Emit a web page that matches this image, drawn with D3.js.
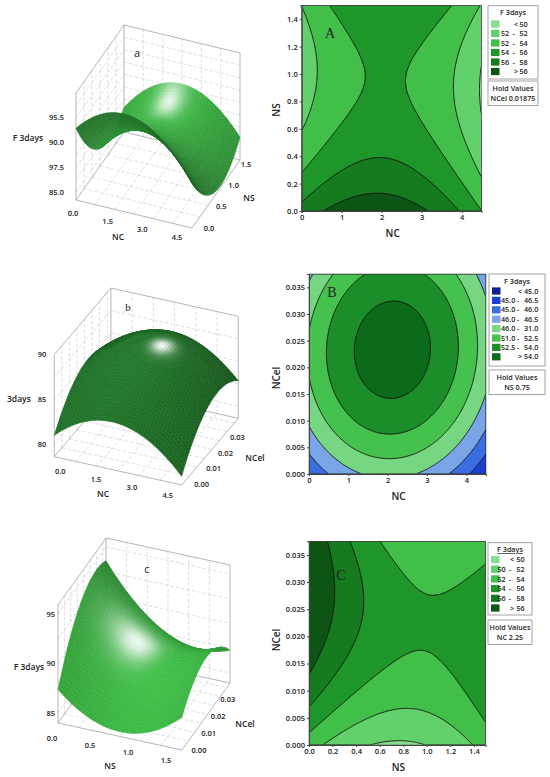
<!DOCTYPE html>
<html lang="en">
<head>
<meta charset="utf-8">
<title>F 3days response surfaces</title>
<style>
  body { margin: 0; background: #fff; }
  svg text { font-family: "Open Sans", sans-serif; fill: #222; }
  .tk { font-size: 7.5px; font-weight: 600; }
  .ttl { font-size: 10px; font-weight: 600; }
  .lg { font-size: 7.2px; font-weight: 600; }
</style>
</head>
<body>
<svg id="fig" width="550" height="777"></svg>
<script src="https://cdn.jsdelivr.net/npm/d3@7"></script>
<script>
"use strict";

// second-order models
// F = b0 + b1*x + b2*y + b11*x^2 + b22*y^2 + b12*x*y
var coefA = [56.71, 2.775, -11.22, -0.75, 5.40, 0.375];    // x = NC, y = NS
var coefB = [46.58, 3.245, 406.0, -0.8, -9000, 6.3];       // x = NC, y = NCel
var coefC = [52.93, -8.605, 498, 5.703, -8300, -124.5];    // x = NS, y = NCel

var domNC = [0, 4.5], domNS = [0, 1.5], domNCel = [0, 0.0375];

var levelsA = [50, 52, 54, 56, 58];
var levelsB = [45, 46.5, 48, 49.5, 51, 52.5, 54];
var levelsC = [50, 52, 54, 56, 58];

var greens = ["#86de90", "#62d06b", "#41bf49", "#1f962a", "#167a1f", "#0c5514"];
var bluesGreens = ["#0c1f8e", "#1c3fd2", "#3a6ee0", "#79a5e6", "#77d681", "#45c14d", "#1b8d29", "#0c6a1b"];

var legendA = [["<", "50"], ["52", "52"], ["52", "54"], ["54", "56"], ["56", "58"], [">", "56"]];
var legendB = [["<", "45.0"], ["45.0", "46.5"], ["45.0", "46.0"], ["46.0", "46.5"], ["46.0", "31.0"], ["51.0", "52.5"], ["52.5", "54.0"], [">", "54.0"]];
var legendC = [["<", "50"], ["50", "52"], ["52", "54"], ["54", "56"], ["56", "58"], [">", "56"]];
var holdA = ["Hold Values", "NCel  0.01875"];
var holdB = ["Hold Values", "NS 0.75"];
var holdC = ["Hold Values", "NC 2.25"];

var ticksNC = [0, 1, 2, 3, 4];
var ticksNS = [0, 0.2, 0.4, 0.6, 0.8, 1.0, 1.2, 1.4];
var ticksNCel = [0, 0.005, 0.01, 0.015, 0.02, 0.025, 0.03, 0.035];

var ticks3dNC = [0, 1.5, 3.0, 4.5];
var ticks3dNS = [0, 0.5, 1.0, 1.5];
var ticks3dNCel = [0, 0.01, 0.02, 0.03];
var zLabelsA = ["85.0", "97.5", "90.0", "95.5"];
var zLabelsB = ["80", "85", "90"];
var zLabelsC = ["85", "90", "95"];

var svg = d3.select("#fig");

function model(c) {
	return function(x, y) { return c[0] + c[1]*x + c[2]*y + c[3]*x*x + c[4]*y*y + c[5]*x*y; };
}
function grad(c, x, y) {
	return [c[1] + 2*c[3]*x + c[5]*y, c[2] + 2*c[4]*y + c[5]*x];
}
function norm(a) {
	var l = Math.sqrt(d3.sum(a, function(d){ return d*d; }));
	return a.map(function(d){ return d / l; });
}
function dot(a, b) { return a[0]*b[0] + a[1]*b[1] + a[2]*b[2]; }

// ---------- contour plots ----------
function contourPlot(cfg) {
	var g = svg.append("g");
	var x = d3.scaleLinear().domain(cfg.xDom).range([cfg.left, cfg.right]);
	var y = d3.scaleLinear().domain(cfg.yDom).range([cfg.bottom, cfg.top]);
	var f = model(cfg.coef);
	var nx = 180, ny = 180;
	var xr = cfg.xDom[1] - cfg.xDom[0], yr = cfg.yDom[1] - cfg.yDom[0];
	var values = new Array(nx * ny);
	for (var j = 0; j < ny; j++) {
		for (var i = 0; i < nx; i++) {
			values[j*nx + i] = f(cfg.xDom[0] + (i + 0.5)/nx*xr, cfg.yDom[0] + (j + 0.5)/ny*yr);
		}
	}
	var bands = d3.contours().size([nx, ny]).thresholds(cfg.levels)(values);
	var path = d3.geoPath(d3.geoTransform({
		point: function(px, py) {
			this.stream.point(x(cfg.xDom[0] + px/nx*xr), y(cfg.yDom[0] + py/ny*yr));
		}
	}));
	var id = "clip" + cfg.letter;
	g.append("clipPath").attr("id", id).append("rect")
		.attr("x", cfg.left).attr("y", cfg.top)
		.attr("width", cfg.right - cfg.left).attr("height", cfg.bottom - cfg.top);
	var area = g.append("g").attr("clip-path", "url(#" + id + ")");
	area.append("rect")
		.attr("x", cfg.left).attr("y", cfg.top)
		.attr("width", cfg.right - cfg.left).attr("height", cfg.bottom - cfg.top)
		.attr("fill", cfg.colours[0]);
	area.selectAll("path")
		.data(bands)
		.enter()
		.append("path")
		.attr("d", path)
		.attr("fill", function(d, k){ return cfg.colours[k + 1]; })
		.attr("stroke", "#111")
		.attr("stroke-width", 0.9);

	g.append("rect")
		.attr("x", cfg.left).attr("y", cfg.top)
		.attr("width", cfg.right - cfg.left).attr("height", cfg.bottom - cfg.top)
		.attr("fill", "none").attr("stroke", "#555").attr("stroke-width", 0.6);

	var ax = g.append("g").attr("transform", "translate(0," + cfg.bottom + ")")
		.call(d3.axisBottom(x).tickValues(cfg.xTicks).tickFormat(cfg.xFmt).tickSize(2).tickPadding(2));
	var ay = g.append("g").attr("transform", "translate(" + cfg.left + ",0)")
		.call(d3.axisLeft(y).tickValues(cfg.yTicks).tickFormat(cfg.yFmt).tickSize(2).tickPadding(2));
	[ax, ay].forEach(function(a){
		a.selectAll("text").attr("class", "tk").attr("fill", "#222");
		a.selectAll("line, path").attr("stroke", "#444");
	});

	g.append("text").attr("class", "ttl")
		.attr("x", (cfg.left + cfg.right)/2 + 1).attr("y", cfg.bottom + 26)
		.attr("text-anchor", "middle").text(cfg.xTitle);
	g.append("text").attr("class", "ttl")
		.attr("transform", "translate(" + 280 + "," + cfg.yTitleY + ") rotate(-90)")
		.attr("text-anchor", "middle").text(cfg.yTitle);
	g.append("text")
		.attr("x", cfg.letterPos[0]).attr("y", cfg.letterPos[1])
		.attr("text-anchor", "middle")
		.style("font-family", "'Liberation Serif', 'DejaVu Serif', serif")
		.style("font-size", "14px").attr("fill", "#222")
		.text(cfg.letter);
}

// ---------- legend boxes ----------
function legend(cfg) {
	var g = svg.append("g");
	g.append("rect").attr("x", cfg.x).attr("y", cfg.y).attr("width", cfg.w).attr("height", cfg.h)
		.attr("fill", "#fff").attr("stroke", "#8c8c8c").attr("stroke-width", 0.8);
	g.append("text").attr("class", "lg")
		.attr("x", cfg.x + cfg.w/2).attr("y", cfg.y + 9.5)
		.attr("text-anchor", "middle")
		.style("text-decoration", cfg.underline ? "underline" : "none")
		.text("F 3days");
	var rows = g.selectAll("g.row").data(cfg.labels).enter().append("g")
		.attr("transform", function(d, k){ return "translate(0," + (cfg.row0 + k*cfg.step) + ")"; });
	rows.append("rect").attr("x", cfg.x + 3).attr("y", -3.6).attr("width", 8.5).attr("height", 7.2)
		.attr("fill", function(d, k){ return cfg.colours[k]; });
	rows.each(function(d){
		var r = d3.select(this);
		if (d[0] === "<" || d[0] === ">") {
			r.append("text").attr("class", "lg").attr("x", cfg.c2 + 2).attr("y", 2.6)
				.attr("text-anchor", "middle").text(d[0]);
		} else {
			r.append("text").attr("class", "lg").attr("x", cfg.c1).attr("y", 2.6).text(d[0]);
			r.append("text").attr("class", "lg").attr("x", cfg.c2).attr("y", 2.6)
				.attr("text-anchor", "middle").text("-");
		}
		r.append("text").attr("class", "lg").attr("x", cfg.c3).attr("y", 2.6).text(d[1]);
	});
	g.append("rect").attr("x", cfg.x).attr("y", cfg.hy).attr("width", cfg.w).attr("height", 24.5)
		.attr("fill", "#fff").attr("stroke", "#8c8c8c").attr("stroke-width", 0.8);
	g.selectAll("text.hold").data(cfg.hold).enter().append("text")
		.attr("class", "lg hold")
		.attr("x", cfg.x + cfg.w/2)
		.attr("y", function(d, k){ return cfg.hy + 10 + k*10.3; })
		.attr("text-anchor", "middle").text(function(d){ return d; });
}

// ---------- 3-D surface plots ----------
function surface3d(cfg) {
	var g = svg.append("g");
	var V = cfg.view;
	var su = d3.scaleLinear().domain(cfg.xDom).range([0, 1]);
	var sv = d3.scaleLinear().domain(cfg.yDom).range([0, 1]);
	var sw = d3.scaleLinear().domain(cfg.zDom).range([0, 1]);
	var zs = d3.scalePoint().domain(cfg.zLabels).range(cfg.zRange);
	var f = model(cfg.coef);
	function P(u, v, w) {
		return [V.o[0] + V.eu[0]*u + V.ev[0]*v, V.o[1] + V.eu[1]*u + V.ev[1]*v - V.h*w];
	}
	var line = d3.line();
	function seg(a, b, dashed, col) {
		g.append("path").attr("d", line([a, b]))
			.attr("stroke", col).attr("stroke-width", dashed ? 0.6 : 0.8)
			.attr("stroke-dasharray", dashed ? "3.5,2" : null)
			.attr("fill", "none");
	}
	var gridCol = "#c8c8c8", edgeCol = "#a3a3a3";
	var xs = d3.range(cfg.xDom[0] + cfg.xStep/2, cfg.xDom[1] - 1e-9, cfg.xStep/2).map(su);
	var ys = d3.range(cfg.yDom[0] + cfg.yStep/2, cfg.yDom[1] - 1e-9, cfg.yStep/2).map(sv);
	var zstep = zs.step() / 2;
	var ws = d3.range(cfg.zRange[0], 1.0 - 0.02, zstep);

	xs.forEach(function(u){
		seg(P(u, 0, 0), P(u, 1, 0), true, gridCol);
		seg(P(u, 1, 0), P(u, 1, 1), true, gridCol);
	});
	ys.forEach(function(v){
		seg(P(0, v, 0), P(1, v, 0), true, gridCol);
		seg(P(0, v, 0), P(0, v, 1), true, gridCol);
	});
	ws.forEach(function(w){
		seg(P(0, 0, w), P(0, 1, w), true, gridCol);
		seg(P(0, 1, w), P(1, 1, w), true, gridCol);
	});
	// box edges
	seg(P(0, 0, 0), P(1, 0, 0), false, edgeCol);
	seg(P(1, 0, 0), P(1, 1, 0), false, edgeCol);
	seg(P(0, 0, 0), P(0, 1, 0), false, edgeCol);
	seg(P(0, 1, 0), P(1, 1, 0), false, edgeCol);
	seg(P(0, 0, 0), P(0, 0, 1), false, edgeCol);
	seg(P(0, 1, 0), P(0, 1, 1), false, edgeCol);
	seg(P(1, 1, 0), P(1, 1, 1), false, edgeCol);
	seg(P(0, 0, 1), P(0, 1, 1), false, edgeCol);
	seg(P(0, 1, 1), P(1, 1, 1), false, edgeCol);

	// lighting: diffuse from above-left, specular direction per plot
	var vh = [V.eu[1], V.ev[1]];
	var vl = Math.hypot(vh[0], vh[1]);
	vh = [vh[0]/vl, vh[1]/vl];
	var perp = [-vh[1], vh[0]];
	var light = norm([0.35*vh[0] - 0.3*perp[0], 0.35*vh[1] - 0.3*perp[1], 1]);
	var half = norm([cfg.hl[0], cfg.hl[1], 1]);
	var Lz = 0.9;
	var xr = cfg.xDom[1] - cfg.xDom[0], yr = cfg.yDom[1] - cfg.yDom[0], zr = cfg.zDom[1] - cfg.zDom[0];

	var n = 46, cells = [];
	for (var i = 0; i < n; i++) {
		for (var j = 0; j < n; j++) {
			var x0 = cfg.xDom[0] + i/n*xr, x1 = cfg.xDom[0] + (i + 1)/n*xr;
			var y0 = cfg.yDom[0] + j/n*yr, y1 = cfg.yDom[0] + (j + 1)/n*yr;
			var pts = [[x0, y0], [x1, y0], [x1, y1], [x0, y1]].map(function(p){
				return P(su(p[0]), sv(p[1]), sw(f(p[0], p[1])));
			});
			var xc = (x0 + x1)/2, yc = (y0 + y1)/2;
			var gr = grad(cfg.coef, xc, yc);
			var nrm = norm([-Lz*gr[0]*xr/zr, -Lz*gr[1]*yr/zr, 1]);
			var diff = Math.max(0, dot(nrm, light));
			var spec = Math.pow(Math.max(0, dot(nrm, half)), cfg.shine);
			var base = d3.interpolateRgb(cfg.dark, cfg.base)(0.1 + 0.9*diff);
			var col = d3.interpolateRgb(base, "#ffffff")(Math.min(1, spec*cfg.gloss));
			var uc = su(xc), vc = sv(yc);
			cells.push({ pts: pts, col: col, far: -(V.eu[1]*uc + V.ev[1]*vc) });
		}
	}
	cells.sort(function(a, b){ return b.far - a.far; });
	g.selectAll("path.cell").data(cells).enter().append("path")
		.attr("class", "cell")
		.attr("d", function(d){ return line(d.pts) + "Z"; })
		.attr("fill", function(d){ return d.col; })
		.attr("stroke", function(d){ return d.col; })
		.attr("stroke-width", 0.45);

	// axis labels
	function lerp(a, b, t) { return [a[0] + (b[0] - a[0])*t, a[1] + (b[1] - a[1])*t]; }
	cfg.xTicks.forEach(function(t){
		var u = su(t), p = P(u, 0, 0), off = lerp(cfg.xOff[0], cfg.xOff[1], u);
		g.append("text").attr("class", "tk").attr("x", p[0] + off[0]).attr("y", p[1] + off[1])
			.attr("text-anchor", "middle").attr("dy", "0.35em").text(cfg.xFmt(t));
	});
	cfg.yTicks.forEach(function(t){
		var v = sv(t), p = P(1, v, 0), off = lerp(cfg.yOff[0], cfg.yOff[1], v);
		g.append("text").attr("class", "tk").attr("x", p[0] + off[0]).attr("y", p[1] + off[1])
			.attr("text-anchor", "middle").attr("dy", "0.35em").text(cfg.yFmt(t));
	});
	cfg.zLabels.forEach(function(t){
		var p = P(0, 0, zs(t));
		g.append("text").attr("class", "tk").attr("x", p[0] - cfg.zGap).attr("y", p[1])
			.attr("text-anchor", "end").attr("dy", "0.35em").text(t);
	});
	cfg.titles.forEach(function(t){
		g.append("text").attr("class", "tk")
			.style("font-size", "8.5px")
			.attr("x", t[1]).attr("y", t[2]).attr("dy", "0.35em")
			.attr("text-anchor", t[3] || "middle").text(t[0]);
	});
	g.append("text")
		.attr("x", cfg.letter[1]).attr("y", cfg.letter[2])
		.attr("text-anchor", "middle")
		.style("font-family", cfg.letter[3])
		.style("font-size", "11px").attr("fill", "#222")
		.text(cfg.letter[0]);
}

var f1 = d3.format(".1f"), f2 = d3.format(".2f");

surface3d({
	view: { o: [76, 200], eu: [116, 28], ev: [48, -68], h: 107 },
	coef: coefA, xDom: domNC, yDom: domNS, zDom: [49.6, 60.2],
	xStep: 1.5, yStep: 0.5, zLabels: zLabelsA, zRange: [0.075, 0.77], zGap: 12,
	xTicks: ticks3dNC, yTicks: ticks3dNS, xFmt: f1, yFmt: f1,
	xOff: [[-3, 13], [-15, 9]], yOff: [[17, 0], [6, 4]],
	base: "#40bd48", dark: "#14501a", shine: 30, gloss: 0.85, hl: [-0.1, -0.45],
	titles: [["F 3days", 28, 138], ["NC", 118, 237], ["NS", 249, 198]],
	letter: ["a", 137, 57, "'Open Sans', sans-serif"]
});
surface3d({
	view: { o: [54.3, 456.7], eu: [127.4, 28.3], ev: [56.6, -66.7], h: 102 },
	coef: coefB, xDom: domNC, yDom: domNCel, zDom: [43.9, 56.7],
	xStep: 1.5, yStep: 0.01, zLabels: zLabelsB, zRange: [0.12, 1.0], zGap: 8,
	xTicks: ticks3dNC, yTicks: ticks3dNCel, xFmt: f1, yFmt: f2,
	xOff: [[6, 15], [-14, 10]], yOff: [[20, -0.5], [8, 7]],
	base: "#21772a", dark: "#0a3a0e", shine: 70, gloss: 0.95, hl: [0.22, 0],
	titles: [["3days", 7, 399, "start"], ["NC", 103, 494], ["NCel", 255, 458]],
	letter: ["b", 128, 311, "'Liberation Serif', serif"]
});
surface3d({
	view: { o: [58, 723], eu: [124, 27], ev: [48, -67], h: 118 },
	coef: coefC, xDom: domNS, yDom: domNCel, zDom: [49.15, 62.5],
	xStep: 0.5, yStep: 0.01, zLabels: zLabelsC, zRange: [0.085, 0.924], zGap: 3,
	xTicks: ticks3dNS, yTicks: ticks3dNCel, xFmt: f1, yFmt: f2,
	xOff: [[-6, 15], [-16, 10]], yOff: [[17, 0], [5, 4]],
	base: "#3ebf46", dark: "#15561a", shine: 30, gloss: 0.9, hl: [0.44, -0.14],
	titles: [["F 3days", 29, 667], ["NS", 110, 766], ["NCel", 245, 724]],
	letter: ["c", 147, 573, "'Open Sans', sans-serif"]
});

contourPlot({
	coef: coefA, xDom: domNC, yDom: domNS, levels: levelsA, colours: greens,
	left: 301.7, right: 481.7, top: 5.5, bottom: 211,
	xTicks: ticksNC, yTicks: ticksNS, xFmt: d3.format("d"), yFmt: f1,
	xTitle: "NC", yTitle: "NS", yTitleY: 110, letter: "A", letterPos: [330, 38]
});
contourPlot({
	coef: coefB, xDom: domNC, yDom: domNCel, levels: levelsB, colours: bluesGreens,
	left: 309, right: 486, top: 274, bottom: 474,
	xTicks: ticksNC, yTicks: ticksNCel, xFmt: d3.format("d"), yFmt: d3.format(".3f"),
	xTitle: "NC", yTitle: "NCel", yTitleY: 378, letter: "B", letterPos: [332, 297]
});
contourPlot({
	coef: coefC, xDom: domNS, yDom: domNCel, levels: levelsC, colours: greens,
	left: 309, right: 485.7, top: 541.3, bottom: 745,
	xTicks: ticksNS, yTicks: ticksNCel, xFmt: f1, yFmt: d3.format(".3f"),
	xTitle: "NS", yTitle: "NCel", yTitleY: 640, letter: "C", letterPos: [341, 580]
});

legend({ x: 488, y: 5.7, w: 50, h: 73.3, row0: 24, step: 9.5, labels: legendA, colours: greens,
	c1: 501, c2: 514, c3: 519.5, hy: 81, hold: holdA });
legend({ x: 489, y: 274, w: 56, h: 92, row0: 291, step: 9.4, labels: legendB, colours: bluesGreens,
	c1: 501, c2: 518, c3: 524, hy: 370, hold: holdB });
legend({ x: 488, y: 542.7, w: 44, h: 72.3, row0: 559.5, step: 9.7, labels: legendC, colours: greens,
	c1: 497.5, c2: 510, c3: 516.5, hy: 620, hold: holdC, underline: true });
</script>
</body>
</html>
